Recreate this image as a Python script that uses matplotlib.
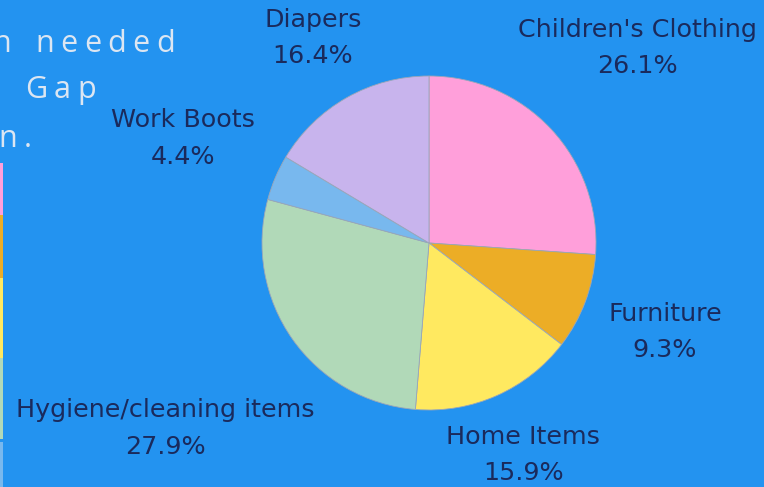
import numpy as np
import matplotlib.pyplot as plt
from matplotlib.patches import Rectangle

# data
categories = ["Children's Clothing", "Furniture", "Home Items",
              "Hygiene/cleaning items", "Work Boots", "Diapers"]
shares = [26.1, 9.3, 15.9, 27.9, 4.4, 16.4]
colors = ["#FF9FDA", "#ECAD26", "#FFE960", "#B1D9B8", "#78B8EE", "#C8B4ED"]
label_dist = [1.71, 1.51, 1.39, 1.93, 1.60, 1.41]

title_words = [["n", "needed"], ["Gap"], ["n."]]

bg = "#2393F0"
dark = "#1A2A5C"

plt.rcParams["font.family"] = ["DejaVu Sans"]
fig = plt.figure(figsize=(7.64, 4.87), dpi=100)
fig.patch.set_facecolor(bg)

ax = fig.add_axes([0, 0, 1, 1])
ax.set_facecolor(bg)
r_px = 167
cx, cy = 429, 487 - 243

wedges, _ = ax.pie(shares, colors=colors, startangle=90, counterclock=False,
                   radius=1, wedgeprops=dict(linewidth=0.6, edgecolor="#9aa6b8"))
ax.set_xlim(-cx / r_px, (764 - cx) / r_px)
ax.set_ylim(-cy / r_px, (487 - cy) / r_px)
ax.set_aspect("auto")
ax.axis("off")

for w, name, val, d in zip(wedges, categories, shares, label_dist):
    ang = np.deg2rad((w.theta1 + w.theta2) / 2)
    ax.text(d * np.cos(ang), d * np.sin(ang), f"{name}\n{val}%",
            ha="center", va="center", fontsize=18.3, color=dark, linespacing=1.66)

# cropped title on the left, drawn letter by letter to get the wide tracking
title_color = "#DCE6F2"
renderer = fig.canvas.get_renderer()
word_starts = [[-8, 35], [25], [-2]]
baselines = [52, 98, 147]
tracking = 6.5
for words, starts, base in zip(title_words, word_starts, baselines):
    for word, x in zip(words, starts):
        for ch in word:
            t = fig.text(x, 487 - base, ch, transform=None, fontsize=22,
                         color=title_color, va="baseline", ha="left",
                         family="Open Sans")
            x += t.get_window_extent(renderer).width + tracking

# cropped legend swatches at the left edge
legend_bounds = [(163, 215), (215, 278), (278, 358), (358, 439), (442, 487)]
legend_colors = ["#FF9FDA", "#ECAD26", "#FFE960", "#B1D9B8", "#78B8EE"]
for (y0, y1), c in zip(legend_bounds, legend_colors):
    fig.patches.append(Rectangle((0, 487 - y1), 3, y1 - y0, transform=None,
                                 facecolor=c, edgecolor="none"))

fig.savefig("out.png", dpi=100, facecolor=bg)
